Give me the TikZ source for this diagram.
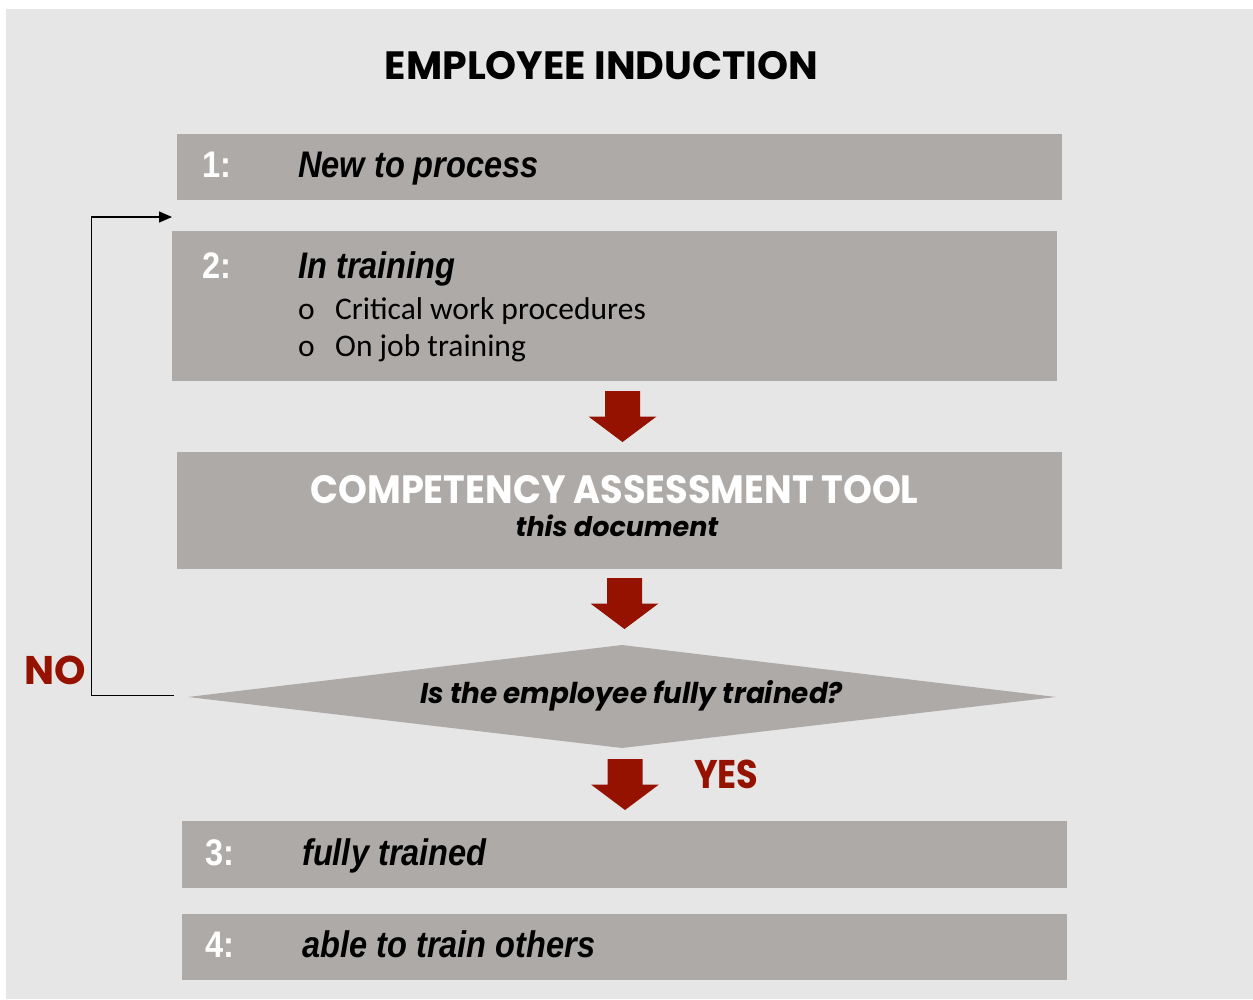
\documentclass[tikz,border=0pt]{standalone}
\usepackage{fontspec}
\setmainfont{Liberation Sans}
\newfontfamily\popfont{Poppins}
\newfontfamily\popcat{Poppins}[FakeStretch=0.93]
\newfontfamily\popq{Poppins}[FakeStretch=0.97]
\newfontfamily\popyes{Poppins}[FakeStretch=0.88]
\newfontfamily\narrowfont{Liberation Sans}[FakeStretch=0.88]
\newfontfamily\calibfont{Carlito}
\usetikzlibrary{arrows.meta}
\definecolor{bgcol}{RGB}{230,230,230}
\definecolor{boxcol}{RGB}{174,170,168}
\definecolor{arrowred}{RGB}{150,18,0}
\tikzset{
  box/.style={fill=boxcol, draw=none, anchor=north west, inner sep=0, minimum height=#1},
  num/.style={anchor=base west, inner sep=0, text=white, font=\narrowfont\fontsize{37}{40}\selectfont\bfseries},
  head/.style={anchor=base west, inner sep=0, text=black, font=\narrowfont\fontsize{37}{40}\selectfont\bfseries\itshape},
  bullet/.style={anchor=base west, inner sep=0, text=black, font=\calibfont\fontsize{31.5}{36}\selectfont},
  redlabel/.style={anchor=base west, inner sep=0, text=arrowred, font=#1\fontsize{40}{44}\selectfont\bfseries},
  redarrow/.pic={\fill[arrowred] (-17.5,0) -- (17.5,0) -- (17.5,25.5) -- (34,25.5) -- (0,51) -- (-34,25.5) -- (-17.5,25.5) -- cycle;}
}
\begin{document}
\begin{tikzpicture}[x=1pt,y=-1pt]
\useasboundingbox (0,0) rectangle (1253,999);
\fill[bgcol] (6,9) rectangle (1253,999);
% title
\node[anchor=base, inner sep=0, font=\popfont\fontsize{39.5}{44}\selectfont\bfseries] (title) at (601.5,79.3) {EMPLOYEE INDUCTION};
% boxes
\node[box=66pt, minimum width=885pt] (b1) at (177,134) {};
\node[box=149.7pt, minimum width=885pt] (b2) at (172,231) {};
\node[box=117.3pt, minimum width=885pt] (b3) at (177,451.7) {};
\node[box=66.7pt, minimum width=885pt] (b4) at (182,821) {};
\node[box=66.7pt, minimum width=885pt] (b5) at (182,913.3) {};
% diamond
\fill[boxcol] (188,697) -- (622,645) -- (1056,697) -- (622,748) -- cycle;
\coordinate (dia) at (622,697);
% box texts
\node[num] (n1) at (202,177) {1:};
\node[head] (t1) at (298,177) {New to process};
\node[num] (n2) at (202,278) {2:};
\node[head] (t2) at (298,278) {In training};
\node[bullet] (o1) at (298,319.3) {o};
\node[bullet] (l1) at (335,319.3) {Critical work procedures};
\node[bullet] (o2) at (298,356) {o};
\node[bullet] (l2) at (335,356) {On job training};
\node[anchor=base, inner sep=0, text=white, font=\popcat\fontsize{39.5}{44}\selectfont\bfseries] (cat) at (614.5,503) {COMPETENCY ASSESSMENT TOOL};
\node[anchor=base, inner sep=0, font=\popfont\fontsize{27}{30}\selectfont\bfseries\itshape] (doc) at (617,536) {this document};
\node[anchor=base, inner sep=0, font=\popq\fontsize{28.7}{32}\selectfont\bfseries\itshape] (q) at (631.5,703.3) {Is the employee fully trained?};
\node[num] (n3) at (205,865) {3:};
\node[head] (t3) at (302,865) {fully trained};
\node[num] (n4) at (205,957) {4:};
\node[head] (t4) at (302,957) {able to train others};
% red arrows
\pic at (622.5,391) {redarrow};
\pic at (624.5,578) {redarrow};
\pic at (625,759) {redarrow};
% labels
\node[redlabel=\popfont] (no) at (24,684) {NO};
\node[redlabel=\popyes] (yes) at (694,788) {YES};
% loop connector
\coordinate (loopstart) at (174,695.3);
\coordinate (loopend) at (172,217);
\draw[line width=1.3pt, -{Triangle[length=13pt,width=11pt]}] (loopstart) -- (91.7,695.3) -- (91.7,217) -- (loopend);
\end{tikzpicture}
\end{document}
